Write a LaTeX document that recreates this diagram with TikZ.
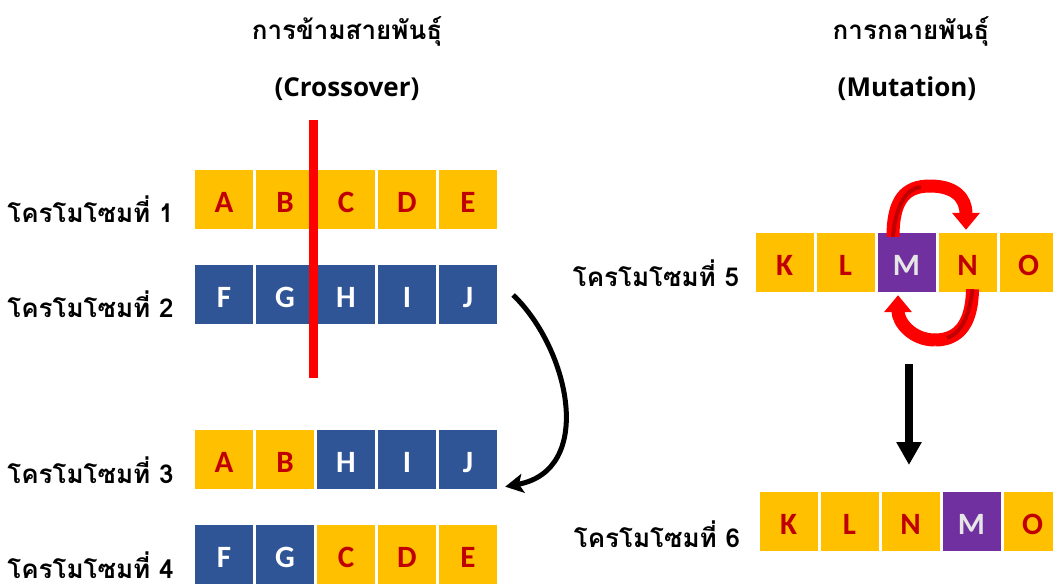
\documentclass[tikz,border=0pt]{standalone}
\usepackage{fontspec}
\setmainfont{Carlito}
\newfontfamily\thaifont[Script=Thai]{Loma}
\newfontfamily\headlatin{Open Sans}
\usetikzlibrary{arrows.meta,calc}

\definecolor{genegold}{HTML}{FFC000}
\definecolor{geneblue}{HTML}{2F5597}
\definecolor{genepurple}{HTML}{7030A0}
\definecolor{genered}{HTML}{C00000}
\definecolor{genegrey}{HTML}{E7E6E6}
\definecolor{cutred}{HTML}{FF0000}
\definecolor{swapdark}{HTML}{C00000}

\tikzset{
  gene/.style={minimum width=58pt, minimum height=59pt, inner sep=0pt,
    text height=26pt, text depth=0pt,
    font=\bfseries\fontsize{31}{31}\selectfont},
  goldgene/.style={gene, fill=genegold, text=genered},
  bluegene/.style={gene, fill=geneblue, text=white},
  purplegene/.style={gene, fill=genepurple, text=genegrey},
  chromlabel/.style={anchor=base east, inner sep=0pt,
    font=\thaifont\bfseries\fontsize{26}{26}\selectfont},
  heading/.style={anchor=base, inner sep=0pt,
    font=\thaifont\bfseries\fontsize{26}{26}\selectfont},
  subheading/.style={anchor=base, inner sep=0pt,
    font=\headlatin\bfseries\fontsize{26}{26}\selectfont},
  swaparrow/.style={cutred, line width=13pt,
    -{Triangle[length=17pt,width=27pt]}},
  swapshade/.style={swapdark, line width=4pt},
}

\begin{document}
\begin{tikzpicture}[x=1pt,y=-1pt]
  \useasboundingbox (0,0) rectangle (1053,588);
  \fill[white] (0,0) rectangle (1053,588);

  % headings
  \node[heading] (xtitle) at (347,40) {การข้ามสายพันธุ์};
  \node[subheading] (xsub) at (347,97) {(Crossover)};
  \node[heading] (mtitle) at (911,40) {การกลายพันธุ์};
  \node[subheading] (msub) at (907,97) {(Mutation)};

  % crossover: parents and offspring
  \foreach \g/\s [count=\i] in {A/goldgene,B/goldgene,C/goldgene,D/goldgene,E/goldgene}
    \node[\s] (r1\i) at ({224+61*(\i-1)},199.5) {\g};
  \foreach \g/\s [count=\i] in {F/bluegene,G/bluegene,H/bluegene,I/bluegene,J/bluegene}
    \node[\s] (r2\i) at ({224+61*(\i-1)},294.5) {\g};
  \foreach \g/\s [count=\i] in {A/goldgene,B/goldgene,H/bluegene,I/bluegene,J/bluegene}
    \node[\s] (r3\i) at ({224+61*(\i-1)},459) {\g};
  \foreach \g/\s [count=\i] in {F/bluegene,G/bluegene,C/goldgene,D/goldgene,E/goldgene}
    \node[\s] (r4\i) at ({224+61*(\i-1)},554.5) {\g};

  % mutation: before and after the swap
  \foreach \g/\s [count=\i] in {K/goldgene,L/goldgene,M/purplegene,N/goldgene,O/goldgene}
    \node[\s] (r5\i) at ({784.5+61*(\i-1)},262.5) {\g};
  \foreach \g/\s [count=\i] in {K/goldgene,L/goldgene,N/goldgene,M/purplegene,O/goldgene}
    \node[\s] (r6\i) at ({788.5+61*(\i-1)},521.5) {\g};

  % row labels
  \node[chromlabel] (lab1) at ($(r11.west)+(-21,23.5)$) {โครโมโซมที่ 1};
  \node[chromlabel] (lab2) at ($(r21.west)+(-21,22.5)$) {โครโมโซมที่ 2};
  \node[chromlabel] (lab3) at ($(r31.west)+(-21,24)$) {โครโมโซมที่ 3};
  \node[chromlabel] (lab4) at ($(r41.west)+(-21,23.5)$) {โครโมโซมที่ 4};
  \node[chromlabel] (lab5) at ($(r51.west)+(-16,24.5)$) {โครโมโซมที่ 5};
  \node[chromlabel] (lab6) at ($(r61.west)+(-19,25.5)$) {โครโมโซมที่ 6};

  % crossover cut
  \coordinate (cuttop) at (313.5,120);
  \coordinate (cutbot) at (313.5,378);
  \draw[cutred, line width=9pt] (cuttop) -- (cutbot);

  % offspring arrow
  \coordinate (swapfrom) at ($(r25.east)+(16,0.5)$);
  \coordinate (swapto) at ($(r35.south east)+(8,-2)$);
  \draw[line width=5pt, -{Stealth[length=18pt,width=19pt,inset=4pt]}]
    (swapfrom) .. controls (570,350) and (595,470) .. (swapto);

  % swap of M and N
  \coordinate (upfrom) at ($(r53.north)+(-13.5,4)$);
  \coordinate (uppeak) at (930,186);
  \coordinate (upto) at ($(r54.north)+(-1.5,-3)$);
  \coordinate (lowfrom) at ($(r54.south)+(5,-3)$);
  \coordinate (lowpeak) at (935,340);
  \coordinate (lowto) at ($(r53.south)+(-8.5,3)$);
  \draw[cutred, line width=13pt]
    (upfrom) .. controls (893,200) and (905,186) .. (uppeak);
  \draw[swaparrow]
    (uppeak) .. controls (955,186) and (966,198) .. (upto);
  \draw[swapshade, shift={(3,2)}]
    (upfrom) .. controls (893,200) and (905,186) .. (918,185);
  \draw[cutred, line width=13pt]
    (lowfrom) .. controls (972,322) and (960,340) .. (lowpeak);
  \draw[swaparrow]
    (lowpeak) .. controls (912,340) and (898,322) .. (lowto);
  \draw[swapshade, shift={(-3,-2)}]
    (lowfrom) .. controls (972,322) and (962,336) .. (950,340);

  % mutation result arrow
  \coordinate (mutfrom) at (909,364);
  \coordinate (mutto) at (909,465);
  \draw[line width=8pt, -{Triangle[length=23pt,width=24pt]}] (mutfrom) -- (mutto);
\end{tikzpicture}
\end{document}
